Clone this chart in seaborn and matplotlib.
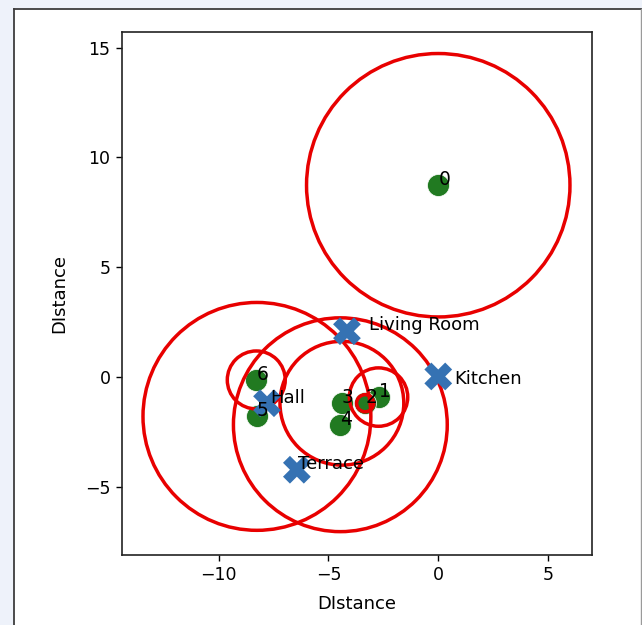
import matplotlib
matplotlib.use("Agg")
import matplotlib.pyplot as plt
from matplotlib.patches import Circle, Rectangle
from matplotlib.lines import Line2D
import seaborn as sns
import pandas as pd

# Estimated positions of the measured points and their range radii
point_ids = ["0", "1", "2", "3", "4", "5", "6"]
point_x = [0.0, -2.72, -3.33, -4.39, -4.46, -8.26, -8.29]
point_y = [8.73, -0.92, -1.20, -1.20, -2.18, -1.80, -0.14]
point_r = [6.0, 1.33, 0.39, 2.82, 4.87, 5.19, 1.32]

# Known room anchors
room_names = ["Living Room", "Kitchen", "Hall", "Terrace"]
room_x = [-4.16, 0.0, -7.80, -6.44]
room_y = [2.08, 0.02, -1.20, -4.23]

# label offsets for the room names (points)
room_label_offset = {
    "Living Room": (16.0, 1.2),
    "Kitchen": (11.8, -5.8),
    "Hall": (2.2, -0.2),
    "Terrace": (0.8, 0.2),
}

points = pd.DataFrame({"id": point_ids, "x": point_x, "y": point_y, "r": point_r})
rooms = pd.DataFrame({"name": room_names, "x": room_x, "y": room_y})

W, H, DPI = 642, 625, 100
fig = plt.figure(figsize=(W / DPI, H / DPI), dpi=DPI, facecolor="#eef2fa")

# white output panel with its frame
fx0, fy1 = 14 / W, 1 - 9 / H
fig.patches.append(Rectangle((fx0, 0), 1 - fx0, fy1, transform=fig.transFigure,
                             facecolor="white", edgecolor="none", zorder=-10))
fig.lines.append(Line2D([fx0, fx0], [0, fy1], transform=fig.transFigure,
                        color="#3d3d3d", lw=1.3, zorder=-5))
fig.lines.append(Line2D([fx0, 1 - 0.5 / W], [fy1, fy1], transform=fig.transFigure,
                        color="#3d3d3d", lw=1.3, zorder=-5))
fig.lines.append(Line2D([1 - 1.5 / W, 1 - 1.5 / W], [0, fy1], transform=fig.transFigure,
                        color="#9a9a9a", lw=1.0, zorder=-5))

ax = fig.add_axes([121.7 / W, 1 - 555.7 / H, (591.7 - 121.7) / W, (555.7 - 31) / H])

sns.scatterplot(data=points, x="x", y="y", s=250, color="#217a21",
                edgecolor="white", linewidth=0.5, ax=ax, zorder=2, legend=False)

for _, row in points.iterrows():
    ax.add_patch(Circle((row.x, row.y), row.r, fill=False, edgecolor="#e80000",
                        lw=2.5, zorder=3))

sns.scatterplot(data=rooms, x="x", y="y", s=400, marker="X", color="#3572b3",
                edgecolor="none", linewidth=0, ax=ax, zorder=4, legend=False)

for _, row in points.iterrows():
    ax.text(row.x, row.y, row.id, fontsize=13.5, color="black", zorder=5)

for _, row in rooms.iterrows():
    dx, dy = room_label_offset[row["name"]]
    ax.annotate(row["name"], (row.x, row.y), xytext=(dx, dy),
                textcoords="offset points", fontsize=13, color="black", zorder=5)

ax.set_xlim(-14.42, 6.99)
ax.set_ylim(-8.12, 15.73)
ax.set_aspect("equal", adjustable="box")
ax.set_xticks([-10, -5, 0, 5])
ax.set_yticks([-5, 0, 5, 10, 15])
ax.tick_params(labelsize=12.5, length=4.5, width=1.0)
for sp in ax.spines.values():
    sp.set_linewidth(1.2)
    sp.set_color("#222222")
ax.set_xlabel("DIstance", fontsize=13, labelpad=8)
ax.set_ylabel("DIstance", fontsize=13, labelpad=12)

fig.savefig("out.png", dpi=DPI, facecolor=fig.get_facecolor())
